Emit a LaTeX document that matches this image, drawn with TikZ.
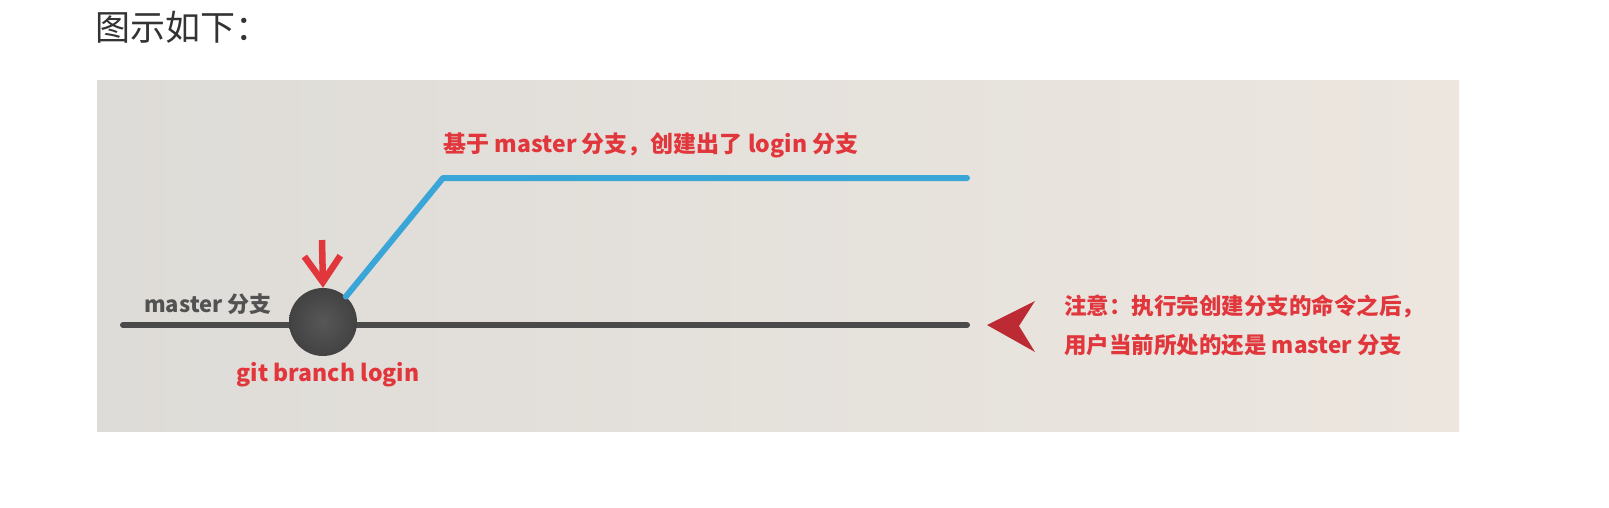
\documentclass[tikz,border=0pt]{standalone}
\usepackage{fontspec}
\newfontfamily\cjk{Noto Sans CJK SC}
\usetikzlibrary{arrows.meta}
\definecolor{panelgray}{HTML}{DEDCD8}
\definecolor{panelwarm}{HTML}{ECE6DF}
\definecolor{notered}{HTML}{E0363C}
\definecolor{loginblue}{HTML}{3AA6D8}
\definecolor{masterline}{HTML}{4A4A4A}
\definecolor{pointerred}{HTML}{BC2A33}
\tikzset{
  redtext/.style={text=notered, font=\cjk\bfseries\fontsize{22}{24}\selectfont, inner sep=0pt},
  branchline/.style={line width=6pt, line cap=round, line join=round}
}
\begin{document}
\begin{tikzpicture}[x=1pt,y=-1pt]
\useasboundingbox[fill=white] (0,0) rectangle (1609,508);
% Panel
\shade[left color=panelgray, right color=panelwarm] (97,81) rectangle (1459,431);
\node[anchor=west, inner sep=0pt, text=black!80, font=\cjk\fontsize{35}{38}\selectfont] (title) at (95,27) {图示如下：};

% Master branch
\coordinate (masterstart) at (123,325);
\coordinate (masterend) at (967,325);
\draw[branchline, masterline] (masterstart) -- (masterend);
\node[circle, minimum size=68pt, inner sep=0pt, shade, inner color=black!66, outer color=black!74] (commit) at (323,322) {};
\node[inner sep=0pt, text=black!68, font=\cjk\bfseries\fontsize{22}{24}\selectfont] (masterlabel) at (208,304) {master 分支};
\node[redtext, font=\cjk\bfseries\fontsize{23}{25}\selectfont] (gitlabel) at (328,375) {git branch login};

% Login branch
\coordinate (bend) at (443,178);
\coordinate (loginend) at (967,178);
\draw[branchline, loginblue] (commit.48) -- (bend) -- (loginend);
\node[redtext, font=\cjk\bfseries\fontsize{23}{25}\selectfont] (toplabel) at (651,145) {基于 master 分支，创建出了 login 分支};

% Pointer arrow
\coordinate (arrowtop) at (322,240);
\draw[-{Straight Barb[length=26pt,width=36pt]}, line width=6.5pt, notered] (arrowtop) -- (commit.north);

% Note
\fill[pointerred] (987,325) -- (1035,301) -- (1019,326) -- (1035,352) -- cycle;
\node[redtext, anchor=west, align=left, font=\cjk\bfseries\fontsize{22.5}{39}\selectfont] (note) at (1064,325) {注意：执行完创建分支的命令之后，\\用户当前所处的还是 master 分支};
\end{tikzpicture}
\end{document}
